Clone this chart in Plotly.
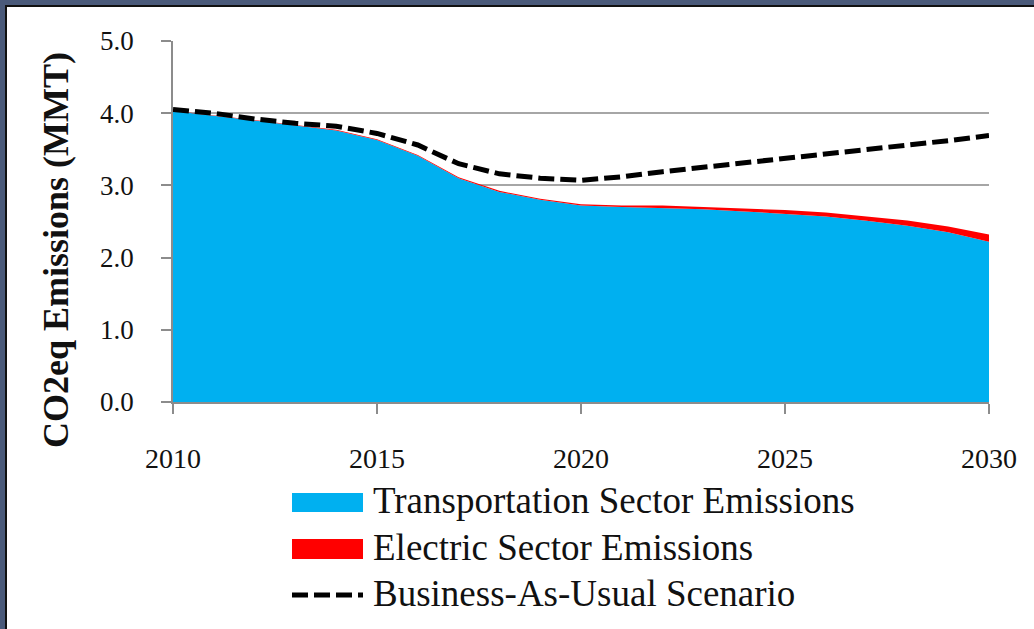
import plotly.graph_objects as go

# ---- data ----
years = list(range(2010, 2031))
transport = [4.03, 3.97, 3.90, 3.83, 3.76, 3.63, 3.41, 3.10, 2.91, 2.80, 2.72,
             2.70, 2.69, 2.67, 2.64, 2.61, 2.57, 2.51, 2.44, 2.35, 2.22]
electric = [0.005, 0.005, 0.005, 0.008, 0.01, 0.01, 0.012, 0.012, 0.015, 0.015, 0.02,
            0.02, 0.03, 0.03, 0.04, 0.05, 0.055, 0.065, 0.075, 0.08, 0.10]
bau = [4.05, 4.00, 3.92, 3.86, 3.82, 3.72, 3.56, 3.30, 3.16, 3.10, 3.07,
       3.12, 3.19, 3.25, 3.31, 3.37, 3.44, 3.50, 3.56, 3.62, 3.69]
series_names = ["Transportation Sector Emissions", "Electric Sector Emissions",
                "Business-As-Usual Scenario"]
y_ticks = [0, 1, 2, 3, 4, 5]
y_tick_labels = ["0.0", "1.0", "2.0", "3.0", "4.0", "5.0"]
x_ticks = [2010, 2015, 2020, 2025, 2030]
x_tick_labels = ["2010", "2015", "2020", "2025", "2030"]
y_title = "CO2eq Emissions (MMT)"

# ---- styling ----
BLUE = "#00B0F0"
RED = "#FF0000"
GRID = "#A6A6A6"
AXIS = "#8C8C8C"
SERIF = "Liberation Serif, Times New Roman, serif"

W, H = 1034, 629
L, R, T, B = 173, 45, 41, 227
PW, PH = W - L - R, H - T - B


def px2x(px):
    return (px - L) / PW


def py2y(py):
    return (H - B - py) / PH


fig = go.Figure()
fig.add_trace(go.Scatter(x=years, y=transport, name=series_names[0], stackgroup="s",
                         mode="lines", line=dict(width=0, color=BLUE), fillcolor=BLUE,
                         showlegend=False))
fig.add_trace(go.Scatter(x=years, y=electric, name=series_names[1], stackgroup="s",
                         mode="lines", line=dict(width=0, color=RED), fillcolor=RED,
                         showlegend=False))
fig.add_trace(go.Scatter(x=years, y=bau, name=series_names[2], mode="lines",
                         line=dict(color="black", width=5, dash="16px,6px"),
                         showlegend=False))

shapes = []
annotations = []

# frame (slate band + black line) on top and left
SLATE = "#4A5A7A"
shapes.append(dict(type="rect", xref="paper", yref="paper", x0=px2x(0), x1=px2x(W),
                   y0=py2y(0), y1=py2y(5), fillcolor=SLATE, line_width=0, layer="above"))
shapes.append(dict(type="rect", xref="paper", yref="paper", x0=px2x(0), x1=px2x(5),
                   y0=py2y(0), y1=py2y(H), fillcolor=SLATE, line_width=0, layer="above"))
shapes.append(dict(type="rect", xref="paper", yref="paper", x0=px2x(5), x1=px2x(W),
                   y0=py2y(5), y1=py2y(7), fillcolor="#111111", line_width=0, layer="above"))
shapes.append(dict(type="rect", xref="paper", yref="paper", x0=px2x(5), x1=px2x(7),
                   y0=py2y(5), y1=py2y(H), fillcolor="#111111", line_width=0, layer="above"))

# manual legend
sw_x0, sw_x1 = px2x(292), px2x(363)
shapes.append(dict(type="rect", xref="paper", yref="paper", x0=sw_x0, x1=sw_x1,
                   y0=py2y(512), y1=py2y(493), fillcolor=BLUE, line_width=0))
shapes.append(dict(type="rect", xref="paper", yref="paper", x0=sw_x0, x1=sw_x1,
                   y0=py2y(559), y1=py2y(539), fillcolor=RED, line_width=0))
shapes.append(dict(type="line", xref="paper", yref="paper", x0=sw_x0, x1=sw_x1,
                   y0=py2y(595), y1=py2y(595),
                   line=dict(color="black", width=5, dash="16px,6px")))
for name, cy in zip(series_names, [500, 547, 593]):
    annotations.append(dict(xref="paper", yref="paper", x=px2x(371), y=py2y(cy),
                            xanchor="left", yanchor="middle", showarrow=False, text=name,
                            font=dict(family=SERIF, size=37, color="#111111")))

# y-axis title
annotations.append(dict(xref="paper", yref="paper", x=px2x(56), y=py2y(250),
                        xanchor="center", yanchor="middle", showarrow=False,
                        text="<b>" + y_title + "</b>", textangle=-90,
                        font=dict(family=SERIF, size=36, color="#111111")))

fig.update_layout(
    width=W, height=H, autosize=False,
    margin=dict(l=L, r=R, t=T, b=B, pad=0),
    paper_bgcolor="white", plot_bgcolor="white",
    shapes=shapes, annotations=annotations,
    xaxis=dict(range=[2010, 2030], tickvals=x_ticks, ticktext=x_tick_labels,
               showgrid=False, zeroline=False, showline=True, linecolor=AXIS, linewidth=1.5,
               ticks="outside", ticklen=10, tickcolor=AXIS, tickwidth=1.5,
               ticklabelstandoff=21,
               tickfont=dict(family=SERIF, size=28, color="#111111")),
    yaxis=dict(range=[0, 5], tickvals=y_ticks, ticktext=y_tick_labels,
               showgrid=True, gridcolor=GRID, gridwidth=1.5, zeroline=False,
               showline=True, linecolor=AXIS, linewidth=1.5,
               ticks="outside", ticklen=10, tickcolor=AXIS, tickwidth=1.5,
               ticklabelstandoff=22,
               tickfont=dict(family=SERIF, size=27, color="#111111")),
)

fig.write_html("out.html")
